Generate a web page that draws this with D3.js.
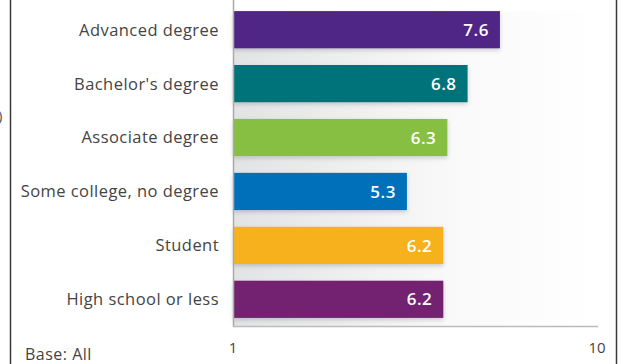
<!DOCTYPE html>
<html>
<head>
<meta charset="utf-8">
<script src="https://cdn.jsdelivr.net/npm/d3@7/dist/d3.min.js"></script>
<style>
  html, body { margin: 0; padding: 0; background: #fff; }
  svg { display: block; }
  text { font-family: "Open Sans", "Noto Sans", sans-serif; }
</style>
</head>
<body>
<svg id="chart" width="625" height="364"></svg>
<script>
const categories = ["Advanced degree", "Bachelor's degree", "Associate degree", "Some college, no degree", "Student", "High school or less"];
const values = [7.6, 6.8, 6.3, 5.3, 6.2, 6.2];
const barColors = ["#4f2785", "#00737a", "#86bf43", "#006fba", "#f6b11f", "#722270"];
const tickValues = [1, 10];

const svg = d3.select("#chart");
const x0 = 233, x1 = 597, yTop = 11, yAxis = 326;

const x = d3.scaleLinear().domain([1, 10]).range([x0, x1]);
const y = d3.scaleBand().domain(categories).range([yTop - 8, yAxis - 0]).paddingInner(0.31).paddingOuter(0.15);

const defs = svg.append("defs");
const grad = defs.append("linearGradient").attr("id", "bg").attr("x1", "0").attr("x2", "1");
grad.append("stop").attr("offset", "0").attr("stop-color", "#e2e3e4");
grad.append("stop").attr("offset", "0.6").attr("stop-color", "#f9f9f9");
grad.append("stop").attr("offset", "1").attr("stop-color", "#ffffff");
const shadow = defs.append("filter").attr("id", "sh").attr("x", "-5%").attr("y", "-30%").attr("width", "110%").attr("height", "170%");
shadow.append("feDropShadow").attr("dx", 0).attr("dy", 2).attr("stdDeviation", 2).attr("flood-color", "#000").attr("flood-opacity", 0.18);

// shaded plot background
svg.append("rect")
  .attr("x", x0).attr("y", y(categories[0]))
  .attr("width", x1 - x0).attr("height", yAxis - y(categories[0]))
  .attr("fill", "url(#bg)");

// frame lines
svg.append("line").attr("x1", 10.5).attr("x2", 10.5).attr("y1", 0).attr("y2", 364).attr("stroke", "#3a3a3a").attr("stroke-width", 1.5);
svg.append("line").attr("x1", 616.5).attr("x2", 616.5).attr("y1", 0).attr("y2", 364).attr("stroke", "#3a3a3a").attr("stroke-width", 1.5);
svg.append("text").attr("x", -2).attr("y", 121).attr("font-size", 15).attr("fill", "#555").text(")");

// bars
svg.append("g").selectAll("rect").data(values).join("rect")
  .attr("x", x(1))
  .attr("y", (d, i) => y(categories[i]))
  .attr("width", d => x(d) - x(1))
  .attr("height", y.bandwidth())
  .attr("fill", (d, i) => barColors[i])
  .attr("filter", "url(#sh)");

// value labels
svg.append("g").selectAll("text").data(values).join("text")
  .attr("x", d => x(d) - 11)
  .attr("y", (d, i) => y(categories[i]) + y.bandwidth() / 2)
  .attr("dy", "0.36em")
  .attr("text-anchor", "end")
  .attr("font-size", 17)
  .attr("font-weight", 600)
  .attr("letter-spacing", 0.5)
  .attr("fill", "#fff")
  .text(d => d.toFixed(1));

// category labels
svg.append("g").selectAll("text").data(categories).join("text")
  .attr("x", 219)
  .attr("y", d => y(d) + y.bandwidth() / 2)
  .attr("dy", "0.36em")
  .attr("text-anchor", "end")
  .attr("font-size", 16.5)
  .attr("letter-spacing", 0.45)
  .attr("fill", "#444")
  .text(d => d);

// axes
svg.append("line").attr("x1", x0 + 0.5).attr("x2", x0 + 0.5).attr("y1", 0).attr("y2", yAxis + 1).attr("stroke", "#aaa").attr("stroke-width", 1.5);
svg.append("line").attr("x1", x0).attr("x2", x1 + 1).attr("y1", yAxis + 0.5).attr("y2", yAxis + 0.5).attr("stroke", "#bbb").attr("stroke-width", 1.5);

svg.append("g").selectAll("text").data(tickValues).join("text")
  .attr("x", d => x(d))
  .attr("y", 353)
  .attr("text-anchor", "middle")
  .attr("font-size", 15)
  .attr("fill", "#444")
  .text(d => d);

svg.append("text").attr("x", 25).attr("y", 360).attr("font-size", 16).attr("letter-spacing", 0.5).attr("fill", "#444").text("Base:  All");
</script>
</body>
</html>
